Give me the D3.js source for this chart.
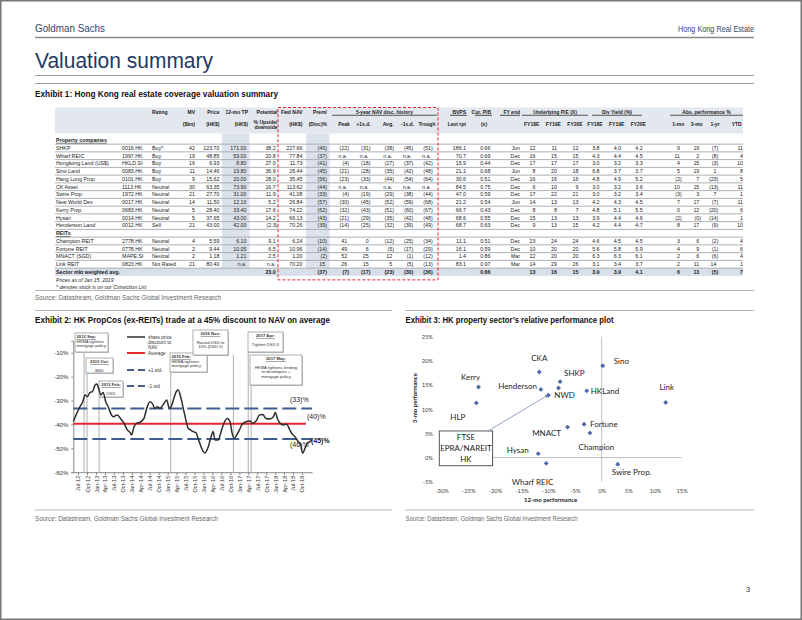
<!DOCTYPE html>
<html>
<head>
<meta charset="utf-8">
<script src="https://cdn.jsdelivr.net/npm/d3@7"></script>
<style>
html,body{margin:0;padding:0;background:#fff;}
svg{display:block;}
</style>
</head>
<body>
<svg id="page" width="802" height="620"></svg>
<script>
// ================= DATA =================
const pageHeaderLeft = 'Goldman Sachs';
const pageHeaderRight = 'Hong Kong Real Estate';
const pageTitle = 'Valuation summary';
const exhibitTitles = [
  'Exhibit 1: Hong Kong real estate coverage valuation summary',
  'Exhibit 2: HK PropCos (ex-REITs) trade at a 45% discount to NAV on average',
  'Exhibit 3: HK property sector\u2019s relative performance plot'
];
const sourceText = 'Source:  Datastream, Goldman Sachs Global Investment Research';
const sourceTextShort = 'Source: Datastream, Goldman Sachs Global Investment Research';
const pageNumber = '3';

// --- Exhibit 1 table ---
const headTop = ['', '', 'Rating', 'MV', 'Price', '12-mo TP', 'Potential', 'Fwd NAV', 'Prem/', '', '', '', '', '', 'BVPS', 'Cur. P/B', 'FY end', '', '', '', '', '', '', '', '', '', ''];
const headSub = ['', '', '', '($bn)', '(HK$)', '(HK$)', '', '(HK$)', '(Disc)%', 'Peak', '+1s.d.', 'Avg.', '-1s.d.', 'Trough', 'Last rpt', '(x)', '', 'FY18E', 'FY19E', 'FY20E', 'FY18E', 'FY19E', 'FY20E', '1-mo', '3-mo', '1-yr', 'YTD'];
const potentialHead = ['% Upside/', 'downside'];
const groupHeads = ['5-year NAV disc. history', 'Underlying P/E (X)', 'Div Yield (%)', 'Abs. performance %'];
const sectionLabels = ['Property companies', 'REITs'];
const propRows = [
  ['SHKP','0016.HK','Buy*','42','123.70','171.00','38.2','227.66','(46)','(22)','(31)','(38)','(45)','(51)','186.1','0.66','Jun','12','11','12','3.8','4.0','4.2','9','19','(7)','11'],
  ['Wharf REIC','1997.HK','Buy','19','48.85','59.00','20.8','77.84','(37)','n.a.','n.a.','n.a.','n.a.','n.a.','70.7','0.69','Dec','16','15','15','4.3','4.4','4.5','11','2','(8)','4'],
  ['Hongkong Land (US$)','HKLD.SI','Buy','16','6.93','8.80','27.0','11.73','(41)','(4)','(18)','(27)','(37)','(42)','15.9','0.44','Dec','17','17','17','3.0','3.2','3.3','4','15','(3)','10'],
  ['Sino Land','0083.HK','Buy','11','14.46','19.80','36.9','26.44','(45)','(21)','(28)','(35)','(42)','(48)','21.1','0.68','Jun','8','20','18','6.8','3.7','3.7','5','19','1','8'],
  ['Hang Lung Prop','0101.HK','Buy','9','15.62','20.00','28.0','35.45','(56)','(23)','(33)','(44)','(54)','(64)','30.6','0.51','Dec','16','16','16','4.8','4.9','5.2','(2)','7','(23)','5'],
  ['CK Asset','1113.HK','Neutral','30','63.35','73.90','16.7','113.62','(44)','n.a.','n.a.','n.a.','n.a.','n.a.','84.5','0.75','Dec','6','10','9','3.0','3.2','3.6','10','15','(13)','11'],
  ['Swire Prop','1972.HK','Neutral','21','27.70','31.00','11.9','41.08','(33)','(4)','(19)','(29)','(38)','(44)','47.0','0.59','Dec','17','22','21','3.0','3.2','3.4','(3)','3','7','1'],
  ['New World Dev','0017.HK','Neutral','14','11.50','12.10','5.2','26.84','(57)','(30)','(45)','(52)','(59)','(68)','21.2','0.54','Jun','14','13','13','4.2','4.3','4.5','7','17','(7)','11'],
  ['Kerry Prop.','0683.HK','Neutral','5','28.40','33.40','17.6','74.22','(62)','(32)','(43)','(51)','(60)','(67)','66.7','0.43','Dec','8','8','7','4.8','5.1','5.5','0','12','(20)','6'],
  ['Hysan','0014.HK','Neutral','5','37.65','43.00','14.2','66.13','(43)','(21)','(29)','(35)','(42)','(48)','68.6','0.55','Dec','15','13','13','3.9','4.4','4.6','(2)','(0)','(14)','1'],
  ['Henderson Land','0012.HK','Sell','21','43.00','42.00','(2.3)','70.26','(39)','(14)','(25)','(32)','(39)','(49)','68.7','0.63','Dec','9','13','15','4.2','4.4','4.7','8','17','(9)','10']
];
const reitRows = [
  ['Champion REIT','2778.HK','Neutral','4','5.59','6.10','9.1','6.24','(10)','41','0','(12)','(25)','(34)','11.1','0.51','Dec','23','24','24','4.6','4.5','4.5','3','6','(2)','4'],
  ['Fortune REIT','0778.HK','Neutral','2','9.44','10.05','6.5','10.96','(14)','49','6','(5)','(17)','(29)','16.1','0.59','Dec','10','20','20','5.6','5.8','5.9','4','9','(1)','6'],
  ['MNACT (SGD)','MAPE.SI','Neutral','2','1.18','1.21','2.5','1.20','(2)','52','25','12','(1)','(12)','1.4','0.86','Mar','22','20','20','6.3','6.3','6.1','2','6','(6)','4'],
  ['Link REIT','0823.HK','Not Rated','21','80.40','n.a.','n.a.','70.20','15','26','15','5','(5)','(13)','83.1','0.97','Mar','14','29','26','3.1','3.4','3.7','2','11','14','1']
];
const sectorRow = ['Sector mkt weighted avg.','','','','','','23.0','','(37)','(7)','(17)','(23)','(30)','(36)','','0.66','','13','16','15','3.9','3.9','4.1','6','13','(5)','7'];
const tableNotes = ['Prices as of Jan 15, 2019', '* denotes stock is on our Conviction List'];

// --- Exhibit 2: share price discount to NAV ---
const discDates = ['2012-05-15','2012-06-18','2012-07-21','2012-08-18','2012-09-11','2012-10-04','2012-11-01','2012-11-25','2012-12-22','2013-01-09','2013-02-01','2013-02-18','2013-03-15','2013-04-09','2013-05-05','2013-05-30','2013-06-25','2013-08-05','2013-09-10','2013-10-13','2013-11-16','2013-12-13','2013-12-28','2014-01-23','2014-02-20','2014-03-24','2014-05-04','2014-06-01','2014-07-04','2014-07-28','2014-08-25','2014-09-18','2014-10-15','2014-11-18','2014-12-22','2015-01-18','2015-02-12','2015-03-05','2015-04-02','2015-04-18','2015-05-13','2015-06-09','2015-07-06','2015-07-29','2015-08-23','2015-09-19','2015-10-16','2015-11-16','2015-12-30','2016-01-16','2016-02-19','2016-03-24','2016-04-09','2016-04-27','2016-05-30','2016-06-24','2016-07-20','2016-08-31','2016-09-28','2016-10-15','2016-11-08','2016-12-05','2017-01-01','2017-01-26','2017-03-09','2017-04-19','2017-05-16','2017-06-26','2017-07-22','2017-08-26','2017-09-29','2017-11-09','2017-12-13','2018-01-02','2018-01-23','2018-02-20','2018-03-23','2018-04-27','2018-05-30','2018-06-17','2018-07-21','2018-08-24','2018-09-18','2018-10-08','2018-11-01','2018-11-24','2018-12-21','2019-01-08'];
const discValues = [-38.8,-35.4,-32.6,-30.5,-27.7,-28.4,-26.6,-26.3,-23.5,-23.1,-25.6,-27.7,-26.6,-30.5,-32.6,-35.4,-36.8,-36.1,-37.7,-39.5,-42.3,-43.3,-44.4,-41.0,-39.5,-39.1,-37.5,-33.3,-30.5,-31.2,-33.3,-32.6,-33.3,-31.6,-29.8,-33.3,-31.9,-29.1,-26.0,-25.6,-28.4,-33.3,-38.2,-41.6,-42.3,-43.0,-43.5,-47.0,-51.4,-52.0,-49.3,-44.4,-43.0,-46.5,-46.5,-43.7,-40.2,-37.5,-38.9,-43.0,-45.8,-44.4,-42.3,-40.2,-38.9,-38.6,-39.5,-38.2,-36.1,-35.8,-37.5,-37.7,-36.8,-35.0,-37.5,-39.5,-40.2,-39.9,-42.3,-43.7,-45.1,-47.2,-48.6,-52.1,-50.0,-47.9,-47.2,-46.5];
const discAverage = -39.7;
const discPlusStd = -33.3;
const discMinusStd = -46.1;
const discLevelLabels = ['(33)%', '(40)%', '(46)%', '(45)%'];
const discYTicks = [-10, -20, -30, -40, -50, -60];
const discLegend = [['share price', 'discount to', 'NAV'], ['Average'], ['+1 std.'], ['-1 std']];
const eventDates = ['2012-09-01', '2012-10-01', '2013-02-01', '2015-02-01', '2016-11-01', '2017-04-01', '2017-05-01'];
const eventTitles = ['2012 Sep:', '2012 Oct:', '2013 Feb:', '2015 Feb:', '2016 Nov:', '2017 Apr:', '2017 May:'];
const eventTexts = [
  ['HKMA tightens', 'mortgage policy'],
  ['', 'BSD'],
  ['', 'DSD'],
  ['HKMA tightens', 'mortgage policy'],
  ['', 'Raised DSD to', '15% (DSD II)'],
  ['', 'Tighten DSD II'],
  ['', 'HKMA tightens lending', 'to developers +', 'mortgage policy']
];

// --- Exhibit 3: relative performance scatter ---
const perfNames = ['CKA', 'Sino', 'Kerry', 'HLP', 'SHKP', 'Henderson', '', 'NWD', 'HKLand', 'Link', 'Fortune', 'MNACT', 'Champion', 'Hysan', 'Wharf REIC', 'Swire Prop.'];
const perf12m = [-11.7, 0.2, -23.1, -23.5, -7.8, -11.4, -8.1, -10.0, -2.8, 12.0, -3.3, -6.4, -2.2, -11.9, -10.4, 3.0];
const perf3m = [17.7, 19.0, 14.6, 11.3, 15.7, 14.1, 14.4, 12.9, 13.8, 11.4, 6.9, 6.3, 5.1, 0.8, -1.2, -1.4];
const perfXTicks = [-30, -25, -20, -15, -10, -5, 0, 5, 10, 15];
const perfYTicks = [-5, 0, 5, 10, 15, 20, 25];
const perfAxisTitles = ['12-mo performance', '3-mo performance'];
const indexBoxLines = ['FTSE', 'EPRA/NAREIT', 'HK'];

// ================= LAYOUT / STYLE =================
const F = "'Liberation Sans', Arial, sans-serif";
const FN = "'Liberation Sans Narrow', 'Arial Narrow', 'Liberation Sans', sans-serif";
const FL = "Lato, 'Open Sans', sans-serif";
const NAVY = '#2c4770';
const ML = 35, MR = 754;

const svg = d3.select('#page');

function txt(g, x, y, s, o = {}) {
  const t = g.append('text').attr('x', x).attr('y', y).attr('dy', o.dy || '0.35em').text(s)
    .attr('font-family', o.ff || F).attr('font-size', o.fs || 5.3)
    .attr('fill', o.fill || '#222').attr('text-anchor', o.anchor || 'start');
  if (o.fw) t.attr('font-weight', o.fw);
  if (o.fi) t.attr('font-style', o.fi);
  if (o.td) t.attr('text-decoration', o.td);
  if (o.w) t.attr('textLength', o.w).attr('lengthAdjust', 'spacingAndGlyphs');
  return t;
}
function hline(g, x1, x2, y, c, w) {
  g.append('line').attr('x1', x1).attr('x2', x2).attr('y1', y).attr('y2', y).attr('stroke', c).attr('stroke-width', w);
}

// page frame
svg.append('rect').attr('x', 0.75).attr('y', 0.75).attr('width', 800.5).attr('height', 618.5)
  .attr('fill', '#fff').attr('stroke', '#777').attr('stroke-width', 1.5);

// page header
txt(svg, ML, 28.5, pageHeaderLeft, { ff: FN, fs: 11, fill: NAVY, w: 70 });
txt(svg, MR, 28.5, pageHeaderRight, { ff: FN, fs: 8.8, fill: NAVY, anchor: 'end', w: 76 });
hline(svg, ML, MR, 37.5, '#8a8a8a', 1.3);
txt(svg, ML, 60, pageTitle, { ff: FN, fs: 22, fill: '#1f3a63', w: 178 });
hline(svg, ML, MR, 75.5, '#a0a0a0', 1);
hline(svg, ML, MR, 83.5, '#a0a0a0', 1);
txt(svg, ML, 94, exhibitTitles[0], { ff: FN, fs: 8.8, fw: 'bold', fill: '#111', w: 243 });

// ================= EXHIBIT 1 TABLE =================
const T = svg.append('g');
const colX = [56, 122, 152, 195, 219.5, 246.5, 277.5, 302.5, 327, 349, 370.5, 394, 413.3, 432.7, 466, 490.5, 520, 535.5, 557, 578.5, 599.5, 621, 642.7, 681.8, 701.1, 718.3, 743];
const headRight = { 3: 195, 4: 219.5, 5: 248, 6: 277.5, 7: 302.5, 8: 327, 14: 466, 15: 491, 16: 520 };
const parenCols = new Set([6, 8, 9, 10, 11, 12, 13, 23, 24, 25]);
const headCenter = { 9: 344, 10: 363.5, 11: 388, 12: 407.5, 13: 427, 15: 484, 17: 531.7, 18: 553.3, 19: 575, 20: 595, 21: 616.7, 22: 638.3, 23: 678.3, 24: 696.7, 25: 715, 26: 736.7 };
const tblL = 55, tblR = 743, rowH = 7.75;
const yHead1 = 112, yHead2 = 124.5;
const ySec1 = 140, yFirst = 148;
const yProp = propRows.map((d, i) => yFirst + rowH * i);
const ySec2 = yProp[yProp.length - 1] + rowH;
const yReit = reitRows.map((d, i) => ySec2 + rowH * (i + 1));
const ySector = yReit[yReit.length - 1] + rowH;
const yNotes = [ySector + rowH, ySector + 2 * rowH];

// header background
T.append('rect').attr('x', tblL).attr('y', 107.5).attr('width', tblR - tblL).attr('height', 26).attr('fill', '#e3e7ee');
// shaded columns (12-mo TP and Prem/(Disc))
const shadeBottom = yReit[yReit.length - 1] + rowH / 2;
[[222, 27.5], [306, 23.5]].forEach(([x, w]) =>
  T.append('rect').attr('x', x).attr('y', 133.5).attr('width', w).attr('height', shadeBottom - 133.5).attr('fill', '#dbe2ec'));
// sector row background
T.append('rect').attr('x', tblL).attr('y', ySector - rowH / 2).attr('width', tblR - tblL).attr('height', rowH).attr('fill', '#d8dfe9');

// row separator lines
function rowLines(ys) {
  hline(T, tblL, tblR, ys[0] - rowH / 2, '#a4a8ae', 0.9);
  ys.forEach(y => hline(T, tblL, tblR, y + rowH / 2, '#a4a8ae', 0.9));
}
rowLines(yProp);
rowLines(yReit);

// headers
const HF = 5.0;
headTop.forEach((s, i) => {
  if (!s) return;
  if (i === 2) txt(T, colX[i], yHead1, s, { fw: 'bold', fs: HF });
  else txt(T, headRight[i], yHead1, s, { fw: 'bold', anchor: 'end', fs: HF });
});
headSub.forEach((s, i) => {
  if (!s) return;
  if (headCenter[i] !== undefined) txt(T, headCenter[i], yHead2, s, { fw: 'bold', anchor: 'middle', fs: HF });
  else txt(T, headRight[i], yHead2, s, { fw: 'bold', anchor: 'end', fs: HF });
});
txt(T, headRight[6], 122, potentialHead[0], { fw: 'bold', anchor: 'end', fs: HF });
txt(T, headRight[6], 127.6, potentialHead[1], { fw: 'bold', anchor: 'end', fs: HF });
// group heads with underline
const groupSpan = [[332, 437], [522, 588], [592, 642], [670, 743]];
groupHeads.forEach((s, i) => {
  const [a, b] = groupSpan[i];
  txt(T, (a + b) / 2, yHead1, s, { fw: 'bold', anchor: 'middle', fs: HF });
  hline(T, a, b, 115.3, '#555', 1.1);
});
[[450, 467], [475, 492], [500, 520]].forEach(([a, b]) => hline(T, a, b, 115.3, '#555', 1.1));

// rows
function drawRow(r, y, bold) {
  r.forEach((s, i) => {
    if (!s) return;
    if (i < 3) { txt(T, colX[i], y, s, { fw: bold ? 'bold' : null }); return; }
    let x = colX[i];
    if (parenCols.has(i) && !s.endsWith(')')) x -= 1.8;
    txt(T, x, y, s, { anchor: 'end', fw: bold ? 'bold' : null });
  });
}
txt(T, 56, ySec1, sectionLabels[0], { fw: 'bold', td: 'underline' });
propRows.forEach((r, i) => drawRow(r, yProp[i], false));
txt(T, 56, ySec2, sectionLabels[1], { fw: 'bold', td: 'underline' });
reitRows.forEach((r, i) => drawRow(r, yReit[i], false));
drawRow(sectorRow, ySector, true);
tableNotes.forEach((s, i) => txt(T, 56, yNotes[i], s, { fi: 'italic', fs: 5.1 }));

// red dashed box round NAV columns
T.append('rect').attr('x', 278).attr('y', 107.5).attr('width', 160).attr('height', ySector + rowH / 2 + 4 - 107.5)
  .attr('fill', 'none').attr('stroke', '#e3262c').attr('stroke-width', 1).attr('stroke-dasharray', '3,2');

// source exhibit 1
hline(svg, ML, MR, 290.5, '#b5b5b5', 1.2);
txt(svg, ML, 297, sourceText, { ff: FN, fs: 7.2, fill: '#666', w: 186 });

// separators above exhibits 2/3
hline(svg, ML, 392, 310.5, '#b5b5b5', 1.2);
hline(svg, 405, MR, 310.5, '#b5b5b5', 1.2);
txt(svg, ML, 320, exhibitTitles[1], { ff: FN, fs: 8.8, fw: 'bold', fill: '#111', w: 295 });
txt(svg, 405.5, 320, exhibitTitles[2], { ff: FN, fs: 8.8, fw: 'bold', fill: '#111', w: 208 });

// ================= EXHIBIT 2 =================
const E2 = svg.append('g');
const parse = d3.timeParse('%Y-%m-%d');
const x2 = d3.scaleTime().domain([parse('2012-05-14'), parse('2019-01-11')]).range([73.3, 312]);
const y2 = d3.scaleLinear().domain([-60, -5]).range([472.2, 340.8]);
const discData = discDates.slice(0, Math.min(discDates.length, discValues.length)).map((d, i) => ({ date: parse(d), v: discValues[i] }));

// y axis
const ya2 = E2.append('g').attr('transform', `translate(${x2.range()[0]},0)`)
  .call(d3.axisLeft(y2).tickValues(discYTicks).tickSize(2).tickPadding(3).tickFormat(d => d + '%'));
ya2.select('.domain').attr('stroke', '#888');
ya2.selectAll('.tick line').attr('stroke', '#888');
ya2.selectAll('text').attr('font-family', F).attr('font-size', 6).attr('fill', '#333');

// x axis
const qTicks = d3.timeMonth.every(3).range(parse('2012-06-01'), parse('2019-01-01'));
const xa2 = E2.append('g').attr('transform', `translate(0,${y2(-60)})`)
  .call(d3.axisBottom(x2).tickValues(qTicks).tickSizeInner(3).tickSizeOuter(0).tickFormat(d3.timeFormat('%b-%y')));
xa2.select('.domain').attr('stroke', '#888');
xa2.selectAll('.tick line').attr('stroke', '#888');
xa2.selectAll('text').attr('font-family', F).attr('font-size', 5.6).attr('fill', '#333')
  .attr('transform', 'rotate(-90)').attr('x', -3.5).attr('y', 0).attr('dy', '0.35em').attr('text-anchor', 'end');

// event annotation boxes + vertical lines
const boxLayout = [
  { x: 75, y: 333, w: 33, h: 19, a: 'start' },
  { x: 86, y: 358, w: 27, h: 15, a: 'middle' },
  { x: 99, y: 381, w: 24, h: 16, a: 'middle' },
  { x: 170, y: 353, w: 37, h: 19, a: 'start' },
  { x: 193, y: 330, w: 35, h: 25, a: 'middle' },
  { x: 248, y: 332, w: 35, h: 20, a: 'middle' },
  { x: 250, y: 355, w: 52, h: 30, a: 'middle' }
];
eventDates.forEach((d, i) => {
  const b = boxLayout[i];
  const lx = x2(parse(d));
  E2.append('line').attr('x1', lx).attr('x2', lx).attr('y1', b.y + b.h).attr('y2', y2(-60))
    .attr('stroke', '#9a9a9a').attr('stroke-width', 0.8);
});
eventDates.forEach((d, i) => {
  const b = boxLayout[i];
  E2.append('rect').attr('x', b.x + 1).attr('y', b.y + 1).attr('width', b.w).attr('height', b.h).attr('fill', '#c8c8c8');
  E2.append('rect').attr('x', b.x).attr('y', b.y).attr('width', b.w).attr('height', b.h)
    .attr('fill', '#fff').attr('stroke', '#7a7a7a').attr('stroke-width', 0.6);
  const tx = b.a === 'start' ? b.x + 1.5 : b.x + b.w / 2;
  const lines = [eventTitles[i]].concat(eventTexts[i]);
  lines.forEach((s, k) => {
    if (!s) return;
    txt(E2, tx, b.y + 3.7 + k * 4.4, s, { fs: 4.2, anchor: b.a, fw: k === 0 ? 'bold' : null, td: k === 0 ? 'underline' : null, fill: '#333' });
  });
});

// level labels (behind lines)
txt(E2, 290, 400, discLevelLabels[0], { fs: 7, fill: '#222' });
txt(E2, 307, 417, discLevelLabels[1], { fs: 7, fill: '#222' });
txt(E2, 290, 444.5, discLevelLabels[2], { fs: 7, fill: '#222' });

// std and average lines
const xr = x2.range();
E2.append('line').attr('x1', xr[0]).attr('x2', xr[1]).attr('y1', y2(discPlusStd)).attr('y2', y2(discPlusStd))
  .attr('stroke', '#3f5d8e').attr('stroke-width', 2).attr('stroke-dasharray', '14,5');
E2.append('line').attr('x1', xr[0]).attr('x2', xr[1]).attr('y1', y2(discMinusStd)).attr('y2', y2(discMinusStd))
  .attr('stroke', '#3f5d8e').attr('stroke-width', 2).attr('stroke-dasharray', '14,5');
E2.append('line').attr('x1', xr[0]).attr('x2', 306).attr('y1', y2(discAverage)).attr('y2', y2(discAverage))
  .attr('stroke', '#e3262c').attr('stroke-width', 2);

// series line
E2.append('path').datum(discData)
  .attr('d', d3.line().x(d => x2(d.date)).y(d => y2(d.v)).curve(d3.curveMonotoneX))
  .attr('fill', 'none').attr('stroke', '#2e2e2e').attr('stroke-width', 1.5);
txt(E2, 311, 441, discLevelLabels[3], { fs: 7, fw: 'bold', fill: '#111' });

// legend
const LG = E2.append('g');
const lgx1 = 127, lgx2 = 145, lgt = 148;
LG.append('line').attr('x1', lgx1).attr('x2', lgx2).attr('y1', 337).attr('y2', 337).attr('stroke', '#2e2e2e').attr('stroke-width', 1.5);
discLegend[0].forEach((s, k) => txt(LG, lgt, 337 + k * 5.3, s, { fs: 4.8, fill: '#333' }));
LG.append('line').attr('x1', lgx1).attr('x2', lgx2).attr('y1', 353).attr('y2', 353).attr('stroke', '#e3262c').attr('stroke-width', 2);
txt(LG, lgt, 353, discLegend[1][0], { fs: 4.8, fill: '#333' });
LG.append('line').attr('x1', lgx1).attr('x2', lgx2).attr('y1', 370).attr('y2', 370).attr('stroke', '#3f5d8e').attr('stroke-width', 2).attr('stroke-dasharray', '7,4');
txt(LG, lgt, 370, discLegend[2][0], { fs: 4.8, fill: '#333' });
LG.append('line').attr('x1', lgx1).attr('x2', lgx2).attr('y1', 386).attr('y2', 386).attr('stroke', '#3f5d8e').attr('stroke-width', 2).attr('stroke-dasharray', '7,4');
txt(LG, lgt, 386, discLegend[3][0], { fs: 4.8, fill: '#333' });

// source exhibit 2
hline(svg, ML, 392, 510, '#b5b5b5', 1.2);
txt(svg, ML, 518, sourceTextShort, { ff: FN, fs: 7.2, fill: '#666', w: 183 });

// ================= EXHIBIT 3 =================
const E3 = svg.append('g');
const x3 = d3.scaleLinear().domain([-30, 15]).range([441.7, 681.7]);
const y3 = d3.scaleLinear().domain([-5, 25]).range([481.7, 336.7]);

// cross lines through origin
E3.append('line').attr('x1', x3(-30)).attr('x2', x3(15)).attr('y1', y3(0)).attr('y2', y3(0)).attr('stroke', '#b0b0b0').attr('stroke-width', 0.8);
E3.append('line').attr('x1', x3(0)).attr('x2', x3(0)).attr('y1', y3(-5)).attr('y2', y3(25)).attr('stroke', '#b0b0b0').attr('stroke-width', 0.8);

// tick labels via axes (low position)
const xa3 = E3.append('g').attr('transform', 'translate(0,486)')
  .call(d3.axisBottom(x3).tickValues(perfXTicks).tickSize(0).tickPadding(3).tickFormat(d => d + '%'));
xa3.select('.domain').remove();
xa3.selectAll('text').attr('font-family', FL).attr('font-size', 5.8).attr('fill', '#444');
const ya3 = E3.append('g').attr('transform', 'translate(436,0)')
  .call(d3.axisLeft(y3).tickValues(perfYTicks).tickSize(0).tickPadding(3).tickFormat(d => d + '%'));
ya3.select('.domain').remove();
ya3.selectAll('text').attr('font-family', FL).attr('font-size', 5.8).attr('fill', '#444');
txt(E3, (x3(-30) + x3(15)) / 2 - 11, 500, perfAxisTitles[0], { ff: FL, fs: 6, fw: 'bold', anchor: 'middle', fill: '#222' });
E3.append('text').attr('transform', 'translate(415,398) rotate(-90)').attr('text-anchor', 'middle').attr('dy', '0.35em')
  .attr('font-family', FL).attr('font-size', 6).attr('font-weight', 'bold').attr('fill', '#222').text(perfAxisTitles[1]);

// index box + arrow
const bx0 = x3(-30.45), bx1 = x3(-20.45), by0 = y3(5.5), by1 = y3(-1.7);
E3.append('rect').attr('x', bx0).attr('y', by0).attr('width', bx1 - bx0).attr('height', by1 - by0)
  .attr('fill', '#fff').attr('stroke', '#444').attr('stroke-width', 0.9);
indexBoxLines.forEach((s, k) => txt(E3, (bx0 + bx1) / 2, by0 + 6.3 + k * 11, s, { ff: FL, fs: 8, anchor: 'middle', fill: '#222' }));
svg.append('defs').append('marker').attr('id', 'arr').attr('viewBox', '0 0 10 10').attr('refX', 9).attr('refY', 5)
  .attr('markerWidth', 5).attr('markerHeight', 5).attr('orient', 'auto')
  .append('path').attr('d', 'M0,1 L10,5 L0,9 Z').attr('fill', '#8497c2');
E3.append('line').attr('x1', x3(-21.3)).attr('y1', by0).attr('x2', x3(perf12m[7]) + 0.5).attr('y2', y3(perf3m[7]) - 0.5)
  .attr('stroke', '#8497c2').attr('stroke-width', 0.9).attr('marker-end', 'url(#arr)');

// points
const pts = perfNames.map((n, i) => ({ n, x: perf12m[i], y: perf3m[i] }));
E3.selectAll('path.pt').data(pts).enter().append('path').attr('class', 'pt')
  .attr('d', d3.symbol(d3.symbolSquare, 12))
  .attr('transform', d => `translate(${x3(d.x)},${y3(d.y)}) rotate(45)`)
  .attr('fill', '#4f6aa6');

// labels
const labelPos = [
  ['middle', 0, -14], ['start', 11, -5], ['middle', -8, -9.5], ['start', -26, 14], ['start', 4, -8],
  ['end', -4, -2.7], null, ['start', 6, 0], ['start', 4, 0.7], ['middle', 1, -15], ['start', 6, 0],
  ['end', -6.5, 6.3], ['middle', 6.5, 14.6], ['end', -9.6, -3.3], ['middle', -13.7, 18.4], ['start', -6, 7.4]
];
pts.forEach((d, i) => {
  const p = labelPos[i];
  if (!p || !d.n) return;
  txt(E3, x3(d.x) + p[1], y3(d.y) + p[2], d.n, { ff: FL, fs: 8, anchor: p[0], fill: '#262626' });
});

// source exhibit 3
hline(svg, 405, MR, 510, '#b5b5b5', 1.2);
txt(svg, 405.5, 518, sourceTextShort, { ff: FN, fs: 7.2, fill: '#666', w: 172 });

// page number
txt(svg, 748, 589.5, pageNumber, { fs: 7.5, fill: '#333', anchor: 'middle' });
</script>
</body>
</html>
